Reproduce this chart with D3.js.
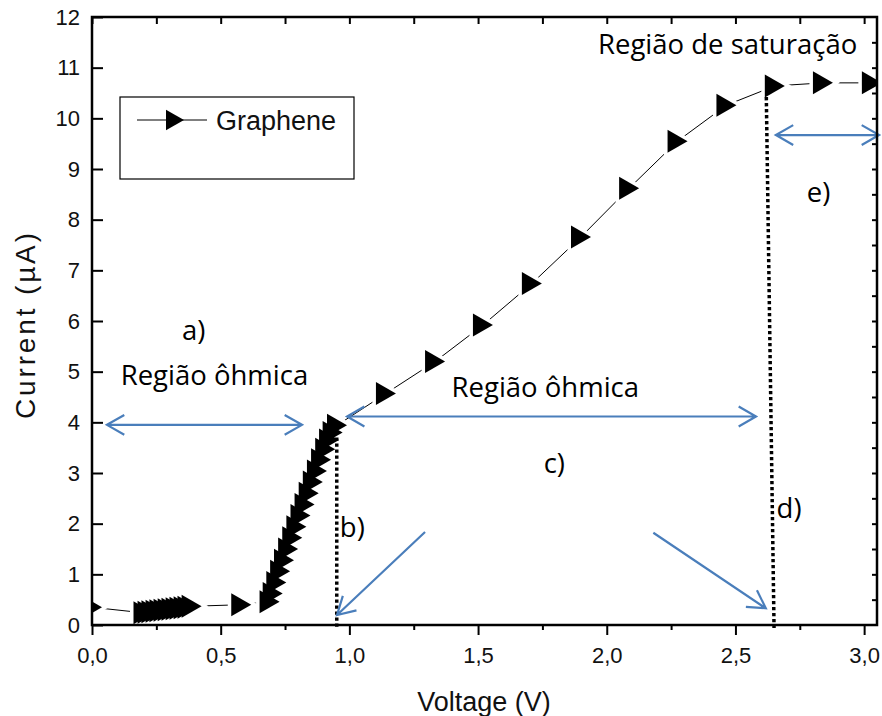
<!DOCTYPE html>
<html>
<head>
<meta charset="utf-8">
<script src="https://cdn.jsdelivr.net/npm/d3@7"></script>
<style>
  html, body { margin: 0; background: #fff; }
  svg { display: block; font-family: "Liberation Sans", Arial, sans-serif; }
  .note { font-family: "Open Sans", "Noto Sans", sans-serif; font-size: 27.5px; fill: #000; }
</style>
</head>
<body>
<div id="chart"></div>
<script>
// measured I-V curve (V, uA)
var voltage = [0.000,
  0.200, 0.216, 0.231, 0.247, 0.262, 0.278, 0.294, 0.309, 0.325, 0.340, 0.356, 0.371, 0.387,
  0.580,
  0.690, 0.702, 0.716, 0.731, 0.746, 0.762, 0.778, 0.794, 0.810, 0.826, 0.842, 0.858, 0.874,
  0.890, 0.906, 0.921, 0.935, 0.952,
  1.142, 1.333, 1.519, 1.709, 1.900, 2.087, 2.275, 2.465, 2.653, 2.840, 3.030];
var current = [0.35,
  0.24, 0.25, 0.26, 0.27, 0.28, 0.29, 0.30, 0.31, 0.32, 0.33, 0.34, 0.35, 0.37,
  0.40,
  0.46, 0.62, 0.84, 1.06, 1.28, 1.50, 1.72, 1.94, 2.16, 2.38, 2.60, 2.82, 3.04,
  3.26, 3.47, 3.65, 3.80, 3.94,
  4.57, 5.20, 5.92, 6.74, 7.66, 8.62, 9.55, 10.26, 10.64, 10.70, 10.70];

var xMajor = [0, 0.5, 1.0, 1.5, 2.0, 2.5, 3.0];
var xMinor = [0.25, 0.75, 1.25, 1.75, 2.25, 2.75];
var yMajor = [0, 1, 2, 3, 4, 5, 6, 7, 8, 9, 10, 11, 12];
var yHalf = [0.5, 1, 1.5, 2, 2.5, 3, 3.5, 4, 4.5, 5, 5.5, 6, 6.5, 7, 7.5, 8, 8.5, 9, 9.5, 10, 10.5, 11, 11.5];

// annotations, in data units
var dotLines = [
  [[0.951, 3.70], [0.951, -0.05]],
  [[2.620, 10.42], [2.650, -0.06]]
];
var arrows = [
  {from: [0.058, 3.95], to: [0.816, 3.95], both: true},
  {from: [0.991, 4.115], to: [2.580, 4.115], both: true},
  {from: [2.657, 9.67], to: [3.058, 9.67], both: true},
  {from: [1.294, 1.835], to: [0.952, 0.197], both: false},
  {from: [2.181, 1.82], to: [2.618, 0.33], both: false}
];
var notes = [
  {text: "a)", at: [0.35, 5.62]},
  {text: "Região ôhmica", at: [0.1115, 4.74]},
  {text: "Região ôhmica", at: [1.397, 4.506]},
  {text: "c)", at: [1.755, 3.00]},
  {text: "b)", at: [0.963, 1.743]},
  {text: "d)", at: [2.66, 2.11]},
  {text: "e)", at: [2.777, 8.354]},
  {text: "Região de saturação", at: [1.966, 11.27]}
];

var W = 882, H = 716;
var margin = {top: 17, right: 5, bottom: 91, left: 92};
var width = W - margin.left - margin.right,
    height = H - margin.top - margin.bottom;

var svg = d3.select("#chart").append("svg")
    .attr("width", W)
    .attr("height", H);
var g = svg.append("g")
    .attr("transform", "translate(" + margin.left + "," + margin.top + ")");

var x = d3.scaleLinear().domain([0, 3.05]).range([0, width]);
var y = d3.scaleLinear().domain([0, 12]).range([height, 0]);

g.append("clipPath").attr("id", "plotclip")
  .append("rect").attr("width", width).attr("height", height);

var pts = voltage.map(function(v, i) { return [v, current[i]]; });
var tri = "M-10,-11.5L10,0L-10,11.5Z";

var plot = g.append("g").attr("clip-path", "url(#plotclip)");
plot.append("path")
    .datum(pts)
    .attr("fill", "none")
    .attr("stroke", "#000")
    .attr("stroke-width", 1)
    .attr("d", d3.line().x(function(d) { return x(d[0]); }).y(function(d) { return y(d[1]); }));
// white halo leaves the small gap between line and symbols
plot.selectAll("path.halo").data(pts).enter().append("path")
    .attr("class", "halo")
    .attr("d", tri)
    .attr("transform", function(d) { return "translate(" + x(d[0]) + "," + y(d[1]) + ")"; })
    .attr("fill", "#fff").attr("stroke", "#fff").attr("stroke-width", 7);
plot.selectAll("path.sym").data(pts).enter().append("path")
    .attr("class", "sym")
    .attr("d", tri)
    .attr("transform", function(d) { return "translate(" + x(d[0]) + "," + y(d[1]) + ")"; })
    .attr("fill", "#000");

// dotted markers
g.selectAll("line.dot").data(dotLines).enter().append("line")
    .attr("x1", function(d) { return x(d[0][0]); })
    .attr("y1", function(d) { return y(d[0][1]); })
    .attr("x2", function(d) { return x(d[1][0]); })
    .attr("y2", function(d) { return y(d[1][1]); })
    .attr("stroke", "#000")
    .attr("stroke-width", 3.5)
    .attr("stroke-dasharray", "3.3 2.7");

// blue arrows with open heads
var blue = "#4a7ebb";
function head(tx, ty, fx, fy) {
  var a = Math.atan2(ty - fy, tx - fx), L = 20, s = 0.52;
  return "M" + (tx - L * Math.cos(a - s)) + "," + (ty - L * Math.sin(a - s)) +
         "L" + tx + "," + ty +
         "L" + (tx - L * Math.cos(a + s)) + "," + (ty - L * Math.sin(a + s));
}
arrows.forEach(function(a) {
  var x1 = x(a.from[0]), y1 = y(a.from[1]), x2 = x(a.to[0]), y2 = y(a.to[1]);
  var d = "M" + x1 + "," + y1 + "L" + x2 + "," + y2 + head(x2, y2, x1, y1);
  if (a.both) d += head(x1, y1, x2, y2);
  g.append("path").attr("d", d)
    .attr("fill", "none").attr("stroke", blue)
    .attr("stroke-width", 2.2).attr("stroke-linejoin", "miter");
});

g.selectAll("text.note").data(notes).enter().append("text")
    .attr("class", "note")
    .attr("x", function(d) { return x(d.at[0]); })
    .attr("y", function(d) { return y(d.at[1]); })
    .text(function(d) { return d.text; });

// axes
var comma = function(d) { return d.toFixed(1).replace(".", ","); };
g.append("g").attr("transform", "translate(0," + height + ")")
    .call(d3.axisBottom(x).tickValues(xMajor).tickSize(10).tickPadding(12).tickFormat(comma));
g.append("g").attr("transform", "translate(0," + height + ")")
    .call(d3.axisBottom(x).tickValues(xMinor).tickSize(5).tickFormat(""));
g.append("g")
    .call(d3.axisTop(x).tickValues(xMajor.concat(xMinor)).tickSize(-7).tickFormat(""));
g.append("g")
    .call(d3.axisLeft(y).tickValues(yMajor).tickSize(-11).tickPadding(12).tickFormat(d3.format("d")));
g.append("g").attr("transform", "translate(" + width + ",0)")
    .call(d3.axisRight(y).tickValues(yHalf).tickSize(-5).tickFormat(""));

g.selectAll(".domain").remove();
g.selectAll(".tick line").attr("stroke", "#000").attr("stroke-width", 2);
g.selectAll(".tick text").attr("font-size", 22).attr("fill", "#111")
    .attr("font-family", "'Liberation Sans', Arial, sans-serif");

g.append("rect")
    .attr("width", width).attr("height", height)
    .attr("fill", "none").attr("stroke", "#000").attr("stroke-width", 2.5);

// axis titles
svg.append("text")
    .attr("x", 484).attr("y", 711)
    .attr("text-anchor", "middle")
    .attr("font-size", 27).attr("fill", "#111")
    .text("Voltage (V)");
svg.append("text")
    .attr("transform", "translate(35,326) rotate(-90)")
    .attr("text-anchor", "middle")
    .attr("font-size", 28).attr("fill", "#111")
    .attr("textLength", 186).attr("lengthAdjust", "spacing")
    .text("Current (µA)");

// legend
var lg = svg.append("g");
lg.append("rect")
    .attr("x", 120).attr("y", 97).attr("width", 234).attr("height", 82)
    .attr("fill", "#fff").attr("stroke", "#000").attr("stroke-width", 1.2);
lg.append("line")
    .attr("x1", 137).attr("x2", 207).attr("y1", 120).attr("y2", 120)
    .attr("stroke", "#000").attr("stroke-width", 1);
lg.append("path").attr("d", tri).attr("transform", "translate(175,120) scale(0.9)").attr("fill", "#000");
lg.append("text")
    .attr("x", 216).attr("y", 130)
    .attr("font-size", 27).attr("fill", "#111")
    .text("Graphene");
</script>
</body>
</html>
